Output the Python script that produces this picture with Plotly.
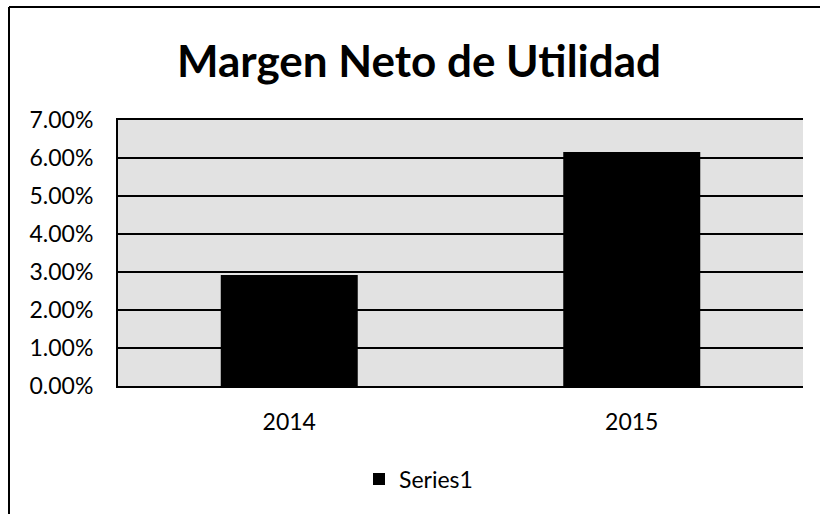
import plotly.graph_objects as go

categories = ["2014", "2015"]
values = [0.0292, 0.0616]
series_name = "Series1"
title_text = "Margen Neto de Utilidad"

L, R, T, B = 118, 17, 120, 128
W, H = 820, 514
pw, ph = W - L - R, H - T - B

def px_x(x):
    return (x - L) / pw

def px_y(y):
    return (H - B - y) / ph

fig = go.Figure()
fig.add_trace(go.Bar(x=categories, y=values, name=series_name,
                     marker=dict(color="black", line=dict(width=0)), width=0.4))

fig.update_layout(
    width=W, height=H,
    margin=dict(l=L, r=R, t=T, b=B),
    paper_bgcolor="white",
    plot_bgcolor="#e2e2e2",
    font=dict(family="Lato", color="black"),
    title=dict(text="<b>" + title_text + "</b>", x=px_x(419), xanchor="center",
               xref="paper", y=1 - 62 / H, yanchor="middle",
               font=dict(size=44, family="Lato")),
    showlegend=True,
    legend=dict(orientation="h", x=px_x(359), xanchor="left", y=px_y(479), yanchor="middle",
                font=dict(size=23), bgcolor="rgba(0,0,0,0)"),
)
fig.update_yaxes(range=[0, 0.07], dtick=0.01, tickformat=".2%",
                 gridcolor="black", gridwidth=2, showline=True, linecolor="black",
                 linewidth=2, mirror=False, ticks="", tickfont=dict(size=23),
                 ticklabelstandoff=18, zeroline=False)
fig.update_xaxes(showline=True, linecolor="black", linewidth=2, mirror=True,
                 tickfont=dict(size=23), ticks="", ticklabelstandoff=14)

fig.add_shape(type="line", xref="paper", yref="paper",
              x0=px_x(9), x1=px_x(9), y0=px_y(514), y1=px_y(7),
              line=dict(color="black", width=2))
fig.add_shape(type="line", xref="paper", yref="paper",
              x0=px_x(9), x1=px_x(820), y0=px_y(7), y1=px_y(7),
              line=dict(color="black", width=2))

fig.write_html("out.html", config={"displayModeBar": False},
               post_script="document.body.style.margin='0';document.body.style.overflow='hidden';")
